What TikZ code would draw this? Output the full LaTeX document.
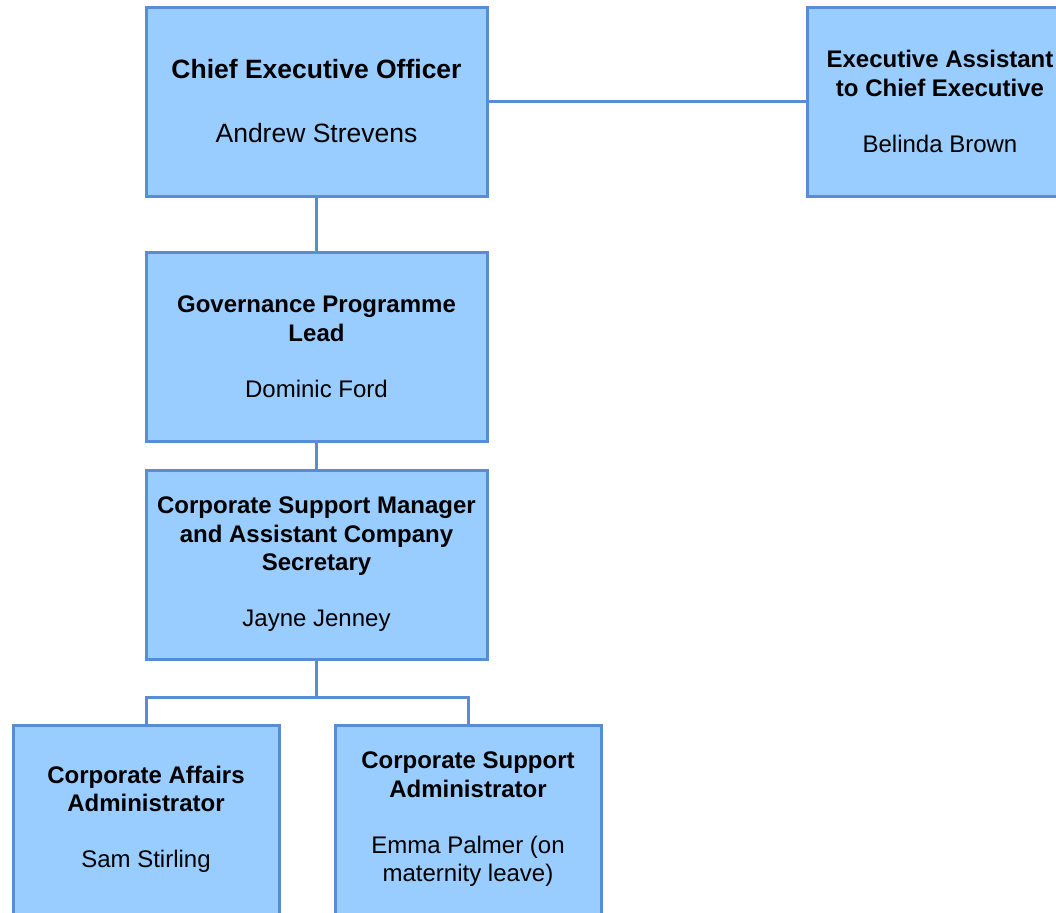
\documentclass[tikz,border=0pt]{standalone}
\usepackage{fontspec}
\setmainfont{Liberation Sans}
\usepackage{tikz}
\usetikzlibrary{positioning}

\definecolor{postfill}{RGB}{153,204,255}
\definecolor{postline}{RGB}{88,140,212}

\begin{document}
\begin{tikzpicture}[%
  x=0.5pt,y=-0.5pt,
  post/.style={draw=postline,line width=1.5pt,fill=postfill,align=center,
    inner sep=0pt,font=\fontsize{12}{14.25}\selectfont},
  big/.style={post,minimum width=170.5pt,minimum height=94.5pt},
  small/.style={post,minimum width=133pt,minimum height=94.5pt},
  link/.style={draw=postline,line width=1.5pt}
]
  \useasboundingbox (0,0) rectangle (1056,912);
  \clip (0,0) rectangle (1056,912);

  \node [big,font=\fontsize{13.25}{15.75}\selectfont] (ceo) at (316.5,101.5)
    {\textbf{Chief Executive Officer}\\[16.25pt]Andrew Strevens};
  \node [small] (assistant) at (940,101.5)
    {\textbf{Executive Assistant}\\\textbf{to Chief Executive}\\[13.75pt]Belinda Brown};
  \node [big] (governance) at (316.5,346.5)
    {\textbf{Governance Programme}\\\textbf{Lead}\\[13.75pt]Dominic Ford};
  \node [big] (support) at (316.5,564.5)
    {\textbf{Corporate Support Manager}\\\textbf{and Assistant Company}\\\textbf{Secretary}\\[13.75pt]Jayne Jenney};
  \node [small] (affairs) at (146,819.5)
    {\textbf{Corporate Affairs}\\\textbf{Administrator}\\[13.75pt]Sam Stirling};
  \node [small] (admin) at (468,819.5)
    {\textbf{Corporate Support}\\\textbf{Administrator}\\[13.75pt]Emma Palmer (on\\maternity leave)};

  \coordinate (fork) at (316.5,697);

  \draw [link] (ceo.east) -- (assistant.west);
  \draw [link] (ceo.south) -- (governance.north);
  \draw [link] (governance.south) -- (support.north);
  \draw [link] (support.south) -- (fork) -| (affairs.north);
  \draw [link] (fork) -| (admin.north);
\end{tikzpicture}
\end{document}
